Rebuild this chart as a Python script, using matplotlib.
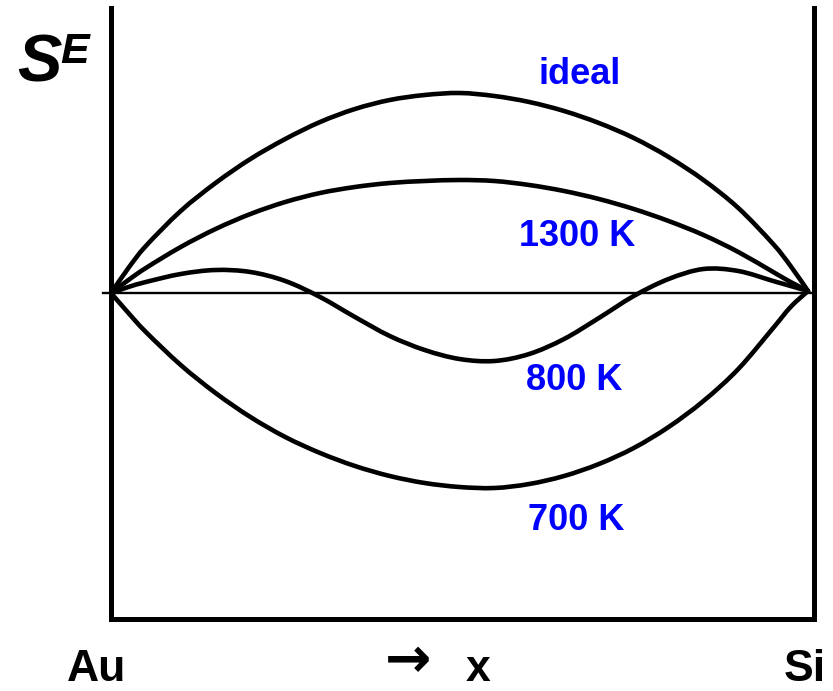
import matplotlib.pyplot as plt
from matplotlib.path import Path
from matplotlib.patches import PathPatch

plt.rcParams['font.family'] = ['Liberation Sans', 'DejaVu Sans']

# mole fraction of Si, Au at 0 and Si at 1
x = [0, 0.025, 0.05, 0.1, 0.15, 0.2, 0.25, 0.3, 0.35, 0.4, 0.45, 0.5,
     0.55, 0.6, 0.65, 0.7, 0.75, 0.8, 0.85, 0.9, 0.95, 0.975, 1.0]

# excess entropy, arbitrary units
s_ideal = [0, 0.25, 0.47, 0.82, 1.10, 1.34, 1.54, 1.71, 1.84, 1.93, 1.98, 2.00,
           1.97, 1.91, 1.82, 1.70, 1.55, 1.36, 1.13, 0.85, 0.49, 0.27, 0.02]
s_1300 = [0, 0.13, 0.25, 0.46, 0.64, 0.79, 0.91, 1.00, 1.06, 1.10, 1.12, 1.13,
          1.12, 1.08, 1.02, 0.94, 0.84, 0.72, 0.58, 0.41, 0.21, 0.11, 0.02]
s_800 = [0, 0.06, 0.11, 0.19, 0.23, 0.21, 0.12, -0.04, -0.24, -0.43, -0.57, -0.66,
         -0.68, -0.61, -0.46, -0.25, -0.03, 0.14, 0.24, 0.22, 0.12, 0.07, 0.02]
s_700 = [0, -0.20, -0.39, -0.72, -1.00, -1.24, -1.44, -1.60, -1.73, -1.83, -1.90, -1.94,
         -1.95, -1.91, -1.83, -1.71, -1.55, -1.34, -1.08, -0.76, -0.35, -0.14, 0.02]

labels = ["ideal", "1300 K", "800 K", "700 K"]
label_pos = [(0.673, 2.18), (0.669, 0.57), (0.664, -0.88), (0.667, -2.28)]


def spline_path(xs, ys):
    # Catmull-Rom through the points, written as cubic Bezier segments
    pts = list(zip(xs, ys))
    n = len(pts)
    verts = [pts[0]]
    codes = [Path.MOVETO]
    for i in range(n - 1):
        p0 = pts[max(i - 1, 0)]
        p1 = pts[i]
        p2 = pts[i + 1]
        p3 = pts[min(i + 2, n - 1)]
        c1 = (p1[0] + (p2[0] - p0[0]) / 6, p1[1] + (p2[1] - p0[1]) / 6)
        c2 = (p2[0] - (p3[0] - p1[0]) / 6, p2[1] - (p3[1] - p1[1]) / 6)
        verts += [c1, c2, p2]
        codes += [Path.CURVE4] * 3
    return Path(verts, codes)


W, H = 833, 691
fig = plt.figure(figsize=(W / 100, H / 100), dpi=100)
ax = fig.add_axes([111 / W, (H - 619) / H, (814 - 111) / W, (619 - 8) / H])

for s in [s_ideal, s_1300, s_800, s_700]:
    ax.add_patch(PathPatch(spline_path(x, s), facecolor="none", edgecolor="black",
                           lw=3.3, capstyle="round", joinstyle="round", clip_on=False))

# zero line
ax.plot([-0.012, 1.0086], [0, 0], color="black", lw=1.7, clip_on=False)

for lab, (lx, ly) in zip(labels, label_pos):
    ax.text(lx, ly, lab, color="#0000ff", fontsize=26, fontweight="bold",
            ha="center", va="center")

ax.set_xlim(0, 1.0086)
ax.set_ylim(-3.26, 2.85)
ax.set_xticks([])
ax.set_yticks([])
ax.spines["top"].set_visible(False)
for side in ["left", "right", "bottom"]:
    ax.spines[side].set_linewidth(3.6)

# axis annotations
fig.text(17 / W, 1 - 82 / H, "S", fontsize=48, fontweight="bold",
         fontstyle="italic", ha="left", va="baseline")
fig.text(60 / W, 1 - 63 / H, "E", fontsize=31, fontweight="bold",
         fontstyle="italic", ha="left", va="baseline")
fig.text(97 / W, 1 - 681 / H, "Au", fontsize=32, fontweight="bold",
         ha="center", va="baseline")
fig.text(408 / W, 1 - 677 / H, "\u2192", fontsize=40, fontweight="bold",
         family="DejaVu Sans", ha="center", va="baseline")
fig.text(478 / W, 1 - 681 / H, "x", fontsize=32, fontweight="bold",
         ha="center", va="baseline")
fig.text(805 / W, 1 - 681 / H, "Si", fontsize=32, fontweight="bold",
         ha="center", va="baseline")

fig.savefig("out.png", dpi=100)
